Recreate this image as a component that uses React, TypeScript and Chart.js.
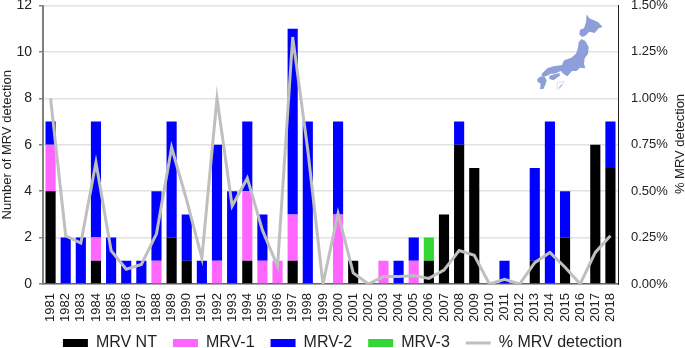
import { useEffect, useRef } from "react";
import { Chart, registerables } from "chart.js";

Chart.register(...registerables);

const years = ["1981","1982","1983","1984","1985","1986","1987","1988","1989","1990","1991","1992","1993","1994","1995","1996","1997","1998","1999","2000","2001","2002","2003","2004","2005","2006","2007","2008","2009","2010","2011","2012","2013","2014","2015","2016","2017","2018"];
const mrvNT = [4,0,0,1,0,0,0,0,2,1,0,0,0,1,0,0,1,0,0,0,1,0,0,0,0,1,3,6,5,0,0,0,1,0,2,0,6,5];
const mrv1 = [2,0,0,1,0,0,0,1,0,0,0,1,0,3,1,1,2,0,0,3,0,0,1,0,1,0,0,0,0,0,0,0,0,0,0,0,0,0];
const mrv2 = [1,2,2,5,2,1,1,3,5,2,1,5,4,3,2,0,8,7,0,4,0,0,0,1,1,0,0,1,0,0,1,0,4,7,2,0,0,2];
const mrv3 = [0,0,0,0,0,0,0,0,0,0,0,0,0,0,0,0,0,0,0,0,0,0,0,0,0,1,0,0,0,0,0,0,0,0,0,0,0,0];
const pctDetection = [1.0,0.26,0.22,0.655,0.18,0.08,0.105,0.27,0.735,0.45,0.14,1.0,0.42,0.57,0.29,0.095,1.33,0.72,0,0.38,0.06,0,0.04,0.04,0.045,0.03,0.075,0.18,0.155,0,0.025,0,0.115,0.17,0.09,0,0.17,0.26];

const FONT = "'Liberation Sans', Arial, sans-serif";

const rightTitle = {
  id: "rightTitle",
  afterLayout(chart: any) {
    chart.scales.x.bottom += 8;
  },
  afterDraw(chart: any) {
    const { ctx } = chart;
    ctx.save();
    ctx.translate(680, 144);
    ctx.rotate(-Math.PI / 2);
    ctx.font = `13px ${FONT}`;
    ctx.fillStyle = "#222";
    ctx.textAlign = "center";
    ctx.textBaseline = "middle";
    ctx.fillText("% MRV detection", 0, 0);
    ctx.restore();
  },
};

export default function App() {
  const ref = useRef<HTMLCanvasElement>(null);
  useEffect(() => {
    const bar = (label: string, data: number[], color: string) => ({
      type: "bar" as const,
      label,
      data,
      backgroundColor: color,
      yAxisID: "y",
      stack: "s",
      order: 1,
      barPercentage: 0.67,
      categoryPercentage: 1,
    });
    const chart = new Chart(ref.current!, {
      data: {
        labels: years,
        datasets: [
          bar("MRV NT", mrvNT, "#000000"),
          bar("MRV-1", mrv1, "#FF66FF"),
          bar("MRV-2", mrv2, "#0000FF"),
          bar("MRV-3", mrv3, "#33D633"),
          {
            type: "line" as const,
            label: "% MRV detection",
            data: pctDetection,
            borderColor: "#BFBFBF",
            backgroundColor: "#BFBFBF",
            borderWidth: 3,
            pointRadius: 0,
            tension: 0,
            yAxisID: "y1",
            order: 0,
          },
        ],
      } as any,
      options: {
        responsive: false,
        animation: false,
        layout: { padding: { top: 5.5, left: 0, right: 0, bottom: -13 } },
        plugins: {
          tooltip: { enabled: false },
          legend: {
            position: "bottom",
            labels: {
              usePointStyle: true,
              pointStyleWidth: 25,
              boxHeight: 8,
              padding: 16,
              color: "#222",
              font: { family: FONT, size: 16 },
              sort: (a: any, b: any) => a.datasetIndex - b.datasetIndex,
              generateLabels(c: any) {
                return Chart.defaults.plugins.legend.labels.generateLabels(c).map((l: any) => {
                  const isLine = l.datasetIndex === 4;
                  return {
                    ...l,
                    pointStyle: isLine ? "line" : "rect",
                    lineWidth: isLine ? 3 : 0,
                    strokeStyle: isLine ? "#BFBFBF" : l.fillStyle,
                  };
                });
              },
            },
          },
        },
        scales: {
          x: {
            stacked: true,
            grid: { display: false, drawTicks: false },
            border: { color: "#666", width: 1.5 },
            ticks: {
              autoSkip: false,
              maxRotation: 90,
              minRotation: 90,
              padding: 9,
              color: "#222",
              font: { family: FONT, size: 13 },
            },
            afterFit(s: any) { s.height = 35; s.paddingLeft = 0; s.paddingRight = 0; },
          },
          y: {
            stacked: true,
            min: 0,
            max: 12,
            position: "left",
            grid: { color: "#E2E2E2", lineWidth: 1.5, tickLength: 4, tickColor: "#808080" },
            border: { color: "#808080", width: 2 },
            title: { display: true, text: "Number of MRV detection", color: "#222", font: { family: FONT, size: 13 }, padding: 0 },
            ticks: { stepSize: 2, padding: 7, color: "#222", font: { family: FONT, size: 14 } },
            afterFit(s: any) { s.width = 43; s.paddingTop = 0; s.paddingBottom = 0; },
          },
          y1: {
            min: 0,
            max: 1.5,
            position: "right",
            grid: { display: false, tickLength: 4, tickColor: "#222" },
            border: { color: "#222", width: 1 },
            ticks: { stepSize: 0.25, padding: 9, color: "#222", font: { family: FONT, size: 13 }, callback: (v: any) => Number(v).toFixed(2) + "%" },
            afterFit(s: any) { s.width = 67; s.paddingTop = 0; s.paddingBottom = 0; },
          },
        },
      } as any,
      plugins: [rightTitle],
    });
    return () => chart.destroy();
  }, []);
  return (
    <div style={{ position: "absolute", left: 0, top: 0, width: 685, height: 348, background: "#fff" }}>
      <canvas ref={ref} width={685} height={348} style={{ display: "block" }} />
      <svg width={100} height={90} viewBox="0 0 300 270" style={{ position: "absolute", left: 520, top: 5 }}>
        <g fill="#8C9FD9">
          <path d="M200 28 L208 40 L222 46 L235 52 L248 66 L236 70 L224 84 L208 80 L196 92 L186 96 L178 88 L180 74 L192 70 L198 52 Z" />
          <path d="M184 102 L196 108 L206 126 L204 146 L194 160 L192 176 L196 190 L180 188 L170 198 L156 198 L142 214 L130 206 L122 198 L104 206 L92 206 L78 214 L68 216 L64 208 L82 190 L100 184 L126 180 L132 166 L154 158 L168 146 L174 128 L176 112 Z" />
          <path d="M88 212 L104 208 L118 204 L120 212 L100 226 L88 222 Z" />
          <path d="M52 222 L62 214 L74 216 L80 226 L76 240 L70 252 L60 252 L62 236 L52 230 Z" />
        </g>
        <path d="M112 232 L133 230 L118 252 L112 252 Z" fill="#fff" stroke="#C8D0EC" strokeWidth="2" />
        <path d="M118 248 L126 238" stroke="#8C9FD9" strokeWidth="3" />
      </svg>
    </div>
  );
}
